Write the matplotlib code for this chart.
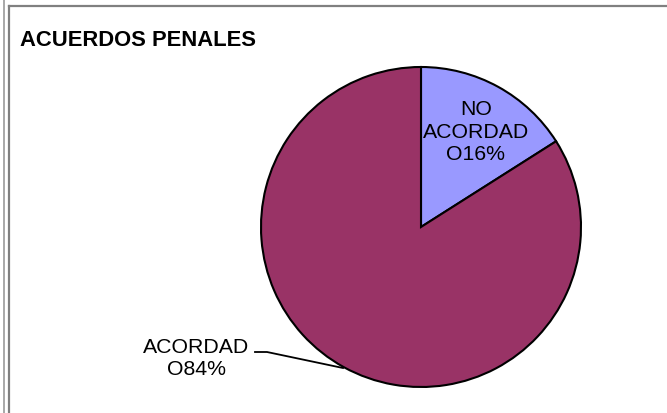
import matplotlib
matplotlib.use("Agg")
import matplotlib.pyplot as plt
from matplotlib.lines import Line2D

# datos
etiquetas = ["NO\nACORDAD\nO16%", "ACORDAD\nO84%"]
valores = [16, 84]
colores = ["#9999FF", "#993366"]

W, H = 667, 414
plt.rcParams['font.family'] = ['Liberation Sans', 'DejaVu Sans']

fig = plt.figure(figsize=(W / 100, H / 100), dpi=100)
ax = fig.add_axes([0, 0, 1, 1])
ax.set_xlim(0, W)
ax.set_ylim(0, H)
ax.set_aspect('equal')
ax.axis('off')

# pastel: empieza a las 12 y va en sentido horario
cx, cy, r = 421, H - 228, 160
ax.pie(valores, colors=colores, startangle=90, counterclock=False,
       center=(cx, cy), radius=r,
       wedgeprops=dict(edgecolor='black', linewidth=1.5))
ax.set_xlim(0, W)
ax.set_ylim(0, H)

# etiquetas
ax.text(476, H - 132, etiquetas[0], ha='center', va='center',
        fontsize=15.3, linespacing=1.22)
ax.text(196, H - 358.5, etiquetas[1], ha='center', va='center',
        fontsize=15.3, linespacing=1.22)
# linea guia
ax.plot([255, 267, 343], [H - 353, H - 353, H - 369], color='black', lw=1.3)

# titulo
fig.text(20 / W, 1 - 41 / H, "ACUERDOS PENALES", fontsize=15.8,
         fontweight='bold', ha='left', va='center')

# marco
gris = '#808080'
fig.add_artist(Line2D([3.5 / W, 3.5 / W], [0, 1], color='#999999', lw=1.2))
fig.add_artist(Line2D([9 / W, 9 / W], [0, 1 - 7 / H], color=gris, lw=1.6))
fig.add_artist(Line2D([9 / W, 1], [1 - 7 / H, 1 - 7 / H], color=gris, lw=1.6))

fig.savefig('out.png', dpi=100)
